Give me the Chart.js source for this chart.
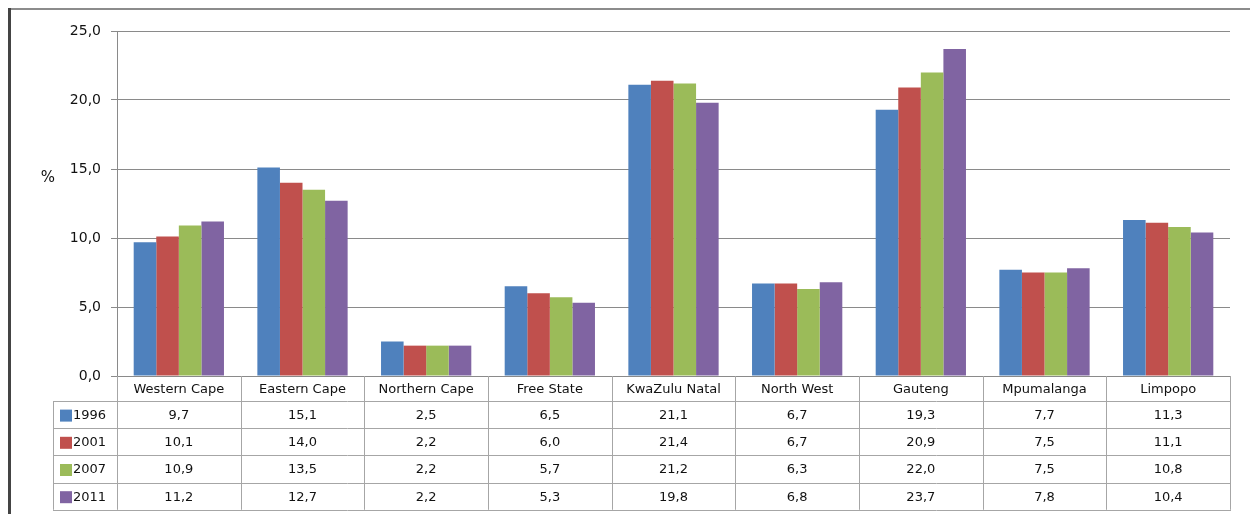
<!DOCTYPE html>
<html>
<head>
<meta charset="utf-8">
<script src="https://cdn.jsdelivr.net/npm/chart.js@4/dist/chart.umd.min.js"></script>
<style>
  html, body { margin: 0; padding: 0; background: #fff; }
  #wrap { width: 1250px; height: 514px; position: relative; }
</style>
</head>
<body>
<div id="wrap"><canvas id="myChart" width="1250" height="514"></canvas></div>
<script>
// Provinces and the share per year (%)
const provinces = ['Western Cape', 'Eastern Cape', 'Northern Cape', 'Free State', 'KwaZulu Natal', 'North West', 'Gauteng', 'Mpumalanga', 'Limpopo'];
const years = ['1996', '2001', '2007', '2011'];
const values1996 = [9.7, 15.1, 2.5, 6.5, 21.1, 6.7, 19.3, 7.7, 11.3];
const values2001 = [10.1, 14.0, 2.2, 6.0, 21.4, 6.7, 20.9, 7.5, 11.1];
const values2007 = [10.9, 13.5, 2.2, 5.7, 21.2, 6.3, 22.0, 7.5, 10.8];
const values2011 = [11.2, 12.7, 2.2, 5.3, 19.8, 6.8, 23.7, 7.8, 10.4];
const yTicks = [0, 5, 10, 15, 20, 25];

const colors = ['#4F81BD', '#C0504D', '#9BBB59', '#8064A2'];
const FONT = '"DejaVu Sans", sans-serif';
const textColor = '#111';
const gridGrey = '#8a8a8a';
const tableGrey = '#a6a6a6';

function fmt(v) {
    return v.toFixed(1).replace('.', ',');
}

const seriesValues = [values1996, values2001, values2007, values2011];

// Draws the outer frame, the "%" label and the data table under the axis
const tablePlugin = {
    id: 'dataTable',
    beforeDraw(chart) {
        const ctx = chart.ctx;
        ctx.save();
        ctx.fillStyle = '#fff';
        ctx.fillRect(0, 0, chart.width, chart.height);
        // frame
        ctx.strokeStyle = '#8c8c8c';
        ctx.lineWidth = 2;
        ctx.beginPath();
        ctx.moveTo(8, 9);
        ctx.lineTo(chart.width, 9);
        ctx.stroke();
        ctx.strokeStyle = '#444';
        ctx.lineWidth = 3;
        ctx.beginPath();
        ctx.moveTo(9.5, 8);
        ctx.lineTo(9.5, chart.height);
        ctx.stroke();
        ctx.restore();
    },
    afterDraw(chart) {
        const ctx = chart.ctx;
        const x = chart.scales.x;
        const area = chart.chartArea;
        const colW = (area.right - area.left) / provinces.length;
        const headTop = area.bottom;
        const headBottom = headTop + 25;
        const rowH = 27.2;
        const tableBottom = headBottom + rowH * years.length;
        const legendLeft = 53;

        ctx.save();
        ctx.strokeStyle = tableGrey;
        ctx.lineWidth = 1;
        ctx.beginPath();
        // vertical lines in header and body
        for (let i = 0; i <= provinces.length; i++) {
            const px = Math.round(area.left + i * colW) + 0.5;
            ctx.moveTo(px, headTop);
            ctx.lineTo(px, tableBottom);
        }
        ctx.moveTo(legendLeft + 0.5, headBottom);
        ctx.lineTo(legendLeft + 0.5, tableBottom);
        // horizontal lines
        for (let r = 0; r <= years.length; r++) {
            const py = Math.round(headBottom + r * rowH) + 0.5;
            ctx.moveTo(legendLeft, py);
            ctx.lineTo(area.right + 1, py);
        }
        ctx.stroke();

        ctx.font = '13px ' + FONT;
        ctx.textBaseline = 'middle';
        for (let r = 0; r < years.length; r++) {
            const cy = headBottom + r * rowH + rowH / 2 + 1;
            ctx.fillStyle = colors[r];
            ctx.fillRect(legendLeft + 7, cy - 6, 12, 12);
            ctx.fillStyle = textColor;
            ctx.textAlign = 'left';
            ctx.fillText(years[r], legendLeft + 20, cy);
            ctx.textAlign = 'center';
            seriesValues[r].forEach((v, i) => {
                ctx.fillText(fmt(v), x.getPixelForValue(i), cy);
            });
        }

        // y unit label
        ctx.textAlign = 'center';
        ctx.font = '15px ' + FONT;
        ctx.fillText('%', 48, 178);
        ctx.restore();
    }
};

const data = {
    labels: provinces,
    datasets: years.map((yr, k) => ({
        label: yr,
        data: seriesValues[k],
        backgroundColor: colors[k],
        borderWidth: 0,
        categoryPercentage: 0.73,
        barPercentage: 1.0
    }))
};

const config = {
    type: 'bar',
    data: data,
    plugins: [tablePlugin],
    options: {
        responsive: false,
        animation: false,
        layout: { padding: { top: 31, right: 20, left: 0, bottom: 0 } },
        plugins: {
            legend: { display: false },
            tooltip: { enabled: false }
        },
        scales: {
            x: {
                grid: { display: false },
                border: { display: true, color: gridGrey },
                ticks: {
                    color: textColor,
                    font: { family: FONT, size: 13 },
                    padding: -2,
                    maxRotation: 0,
                    autoSkip: false
                },
                afterFit(scale) { scale.height = 138; }
            },
            y: {
                min: 0,
                max: 25,
                afterBuildTicks(scale) {
                    scale.ticks = yTicks.map(v => ({ value: v }));
                },
                grid: { color: gridGrey, tickLength: 6, drawTicks: true },
                border: { display: true, color: gridGrey },
                ticks: {
                    color: textColor,
                    font: { family: FONT, size: 14 },
                    padding: 10,
                    callback: v => fmt(v)
                },
                afterFit(scale) { scale.width = 117; }
            }
        }
    }
};

const myChart = new Chart(document.getElementById('myChart'), config);
</script>
</body>
</html>
